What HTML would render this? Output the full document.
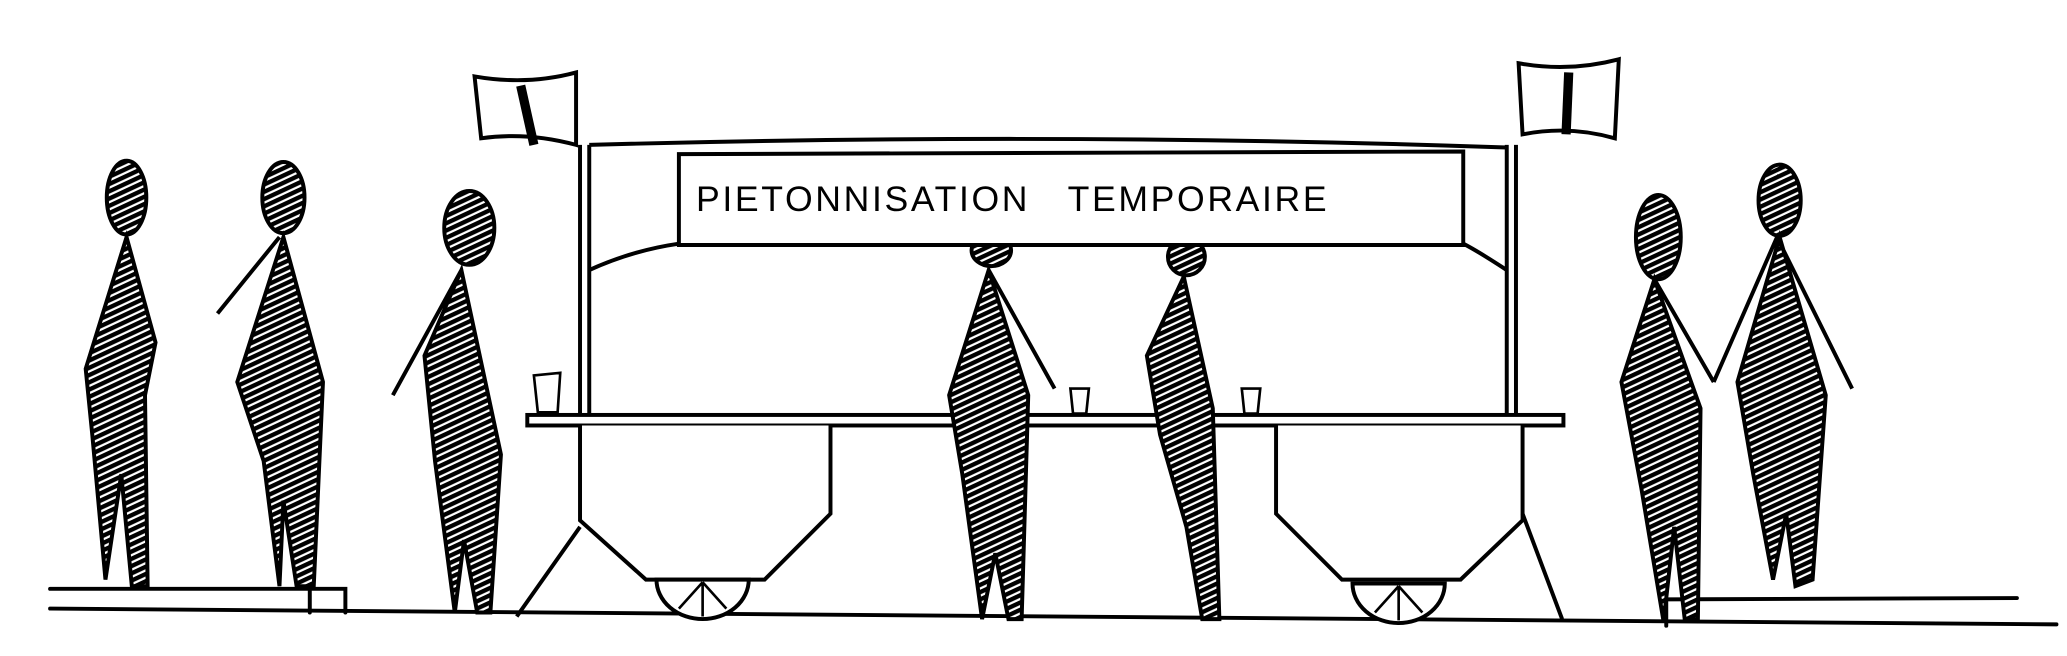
<!DOCTYPE html>
<html><head><meta charset="utf-8"><style>
html,body{margin:0;padding:0;background:#fff;width:2067px;height:656px;overflow:hidden}
svg{display:block}
</style></head><body>
<svg width="2067" height="656" viewBox="0 0 1568 498" preserveAspectRatio="none">
<defs>
<pattern id="h" width="5" height="5" patternUnits="userSpaceOnUse" patternTransform="rotate(65)">
<rect width="5" height="5" fill="#fff"/><rect width="3.3" height="5" fill="#000"/>
</pattern>
</defs>
<g stroke="#000" stroke-width="3" fill="none" stroke-linecap="round">
<path d="M38 462 L1560 474"/>
<path d="M38 447 L262 447 L262 465"/><path d="M235 447 L235 465"/>
<path d="M1262 455 L1530 454 M1264 455 L1264 475"/>
</g>
<g stroke="#000" stroke-width="3" fill="#fff">
<path d="M440 110 L440 315 M447 110 L447 315 M1143 110 L1143 315 M1150 110 L1150 315" fill="none"/>
<path d="M447 110 Q800 100 1143 112" fill="none"/>
<path d="M447 205 Q480 190 515 185 M1143 205 Q1120 190 1110 185" fill="none"/>
<g><ellipse cx="752" cy="190" rx="15" ry="12" fill="url(#h)"/></g>
<g><ellipse cx="900" cy="195" rx="14" ry="14" fill="url(#h)"/></g>
<path d="M515 117 L1110 115 L1110 186 L515 186 Z"/>
<path d="M360 58 Q400 65 437 55 L437 110 Q400 100 365 105 Z"/>
<path d="M395 65 L405 110" stroke-width="7"/>
<path d="M1152 48 Q1190 55 1228 45 L1225 105 Q1190 95 1155 102 Z"/>
<path d="M1190 55 L1188 102" stroke-width="7"/>
<rect x="400" y="315" width="786" height="8"/>
<path d="M440 323 L440 395 L490 440 L580 440 L630 390 L630 323"/>
<path d="M968 323 L968 390 L1018 440 L1108 440 L1155 395 L1155 323"/>
<path d="M440 400 L392 468 M1155 390 L1185 470" fill="none"/>
<path d="M498 440 A35 30 0 0 0 568 440 Z"/>
<path d="M1026 443 A35 30 0 0 0 1096 443 Z"/>
<path d="M533 442 L533 468 M533 442 L515 462 M533 442 L551 462 M1061 445 L1061 471 M1061 445 L1043 465 M1061 445 L1079 465" fill="none" stroke-width="2"/>
<path d="M405 285 L425 283 L423 313 L408 313 Z M812 295 L826 295 L824 314 L814 314 Z M942 295 L956 295 L954 314 L944 314 Z" stroke-width="2"/>
</g>
<text x="528" y="160" font-family="Liberation Sans, sans-serif" font-size="27" letter-spacing="2">PIETONNISATION&#160;&#160;&#160;TEMPORAIRE</text>
<g fill="url(#h)" stroke="#000" stroke-width="3">
<g><ellipse cx="96" cy="150" rx="15" ry="28"/><path d="M96 180 L118 260 L110 300 L112 445 L100 445 L92 360 L80 440 L70 330 L65 280 Z"/></g>
<g><ellipse cx="215" cy="150" rx="16" ry="27"/><path d="M212 180 L165 238 M215 180 L245 290 L238 445 L225 445 L215 380 L212 445 L200 350 L180 290 Z"/></g>
<g><ellipse cx="356" cy="173" rx="19" ry="28"/><path d="M350 205 L298 300 M350 205 L380 345 L372 465 L362 465 L352 410 L345 465 L330 350 L322 270 Z"/></g>
<g><path d="M750 205 L800 295 M750 205 L780 300 L775 470 L765 470 L755 420 L745 470 L730 360 L720 300 Z"/></g>
<g><path d="M898 210 L920 310 L925 470 L912 470 L900 400 L880 330 L870 270 Z"/></g>
<g><ellipse cx="1258" cy="180" rx="17" ry="32"/><path d="M1255 212 L1300 290 M1255 212 L1290 310 L1288 470 L1278 470 L1270 400 L1262 472 L1245 370 L1230 290 Z"/></g>
<g><ellipse cx="1350" cy="152" rx="16" ry="27"/><path d="M1348 180 L1405 295 M1348 180 L1300 290 M1350 180 L1385 300 L1375 440 L1362 445 L1355 390 L1345 440 L1330 360 L1318 290 Z"/></g>
</g>
</svg>
</body></html>
